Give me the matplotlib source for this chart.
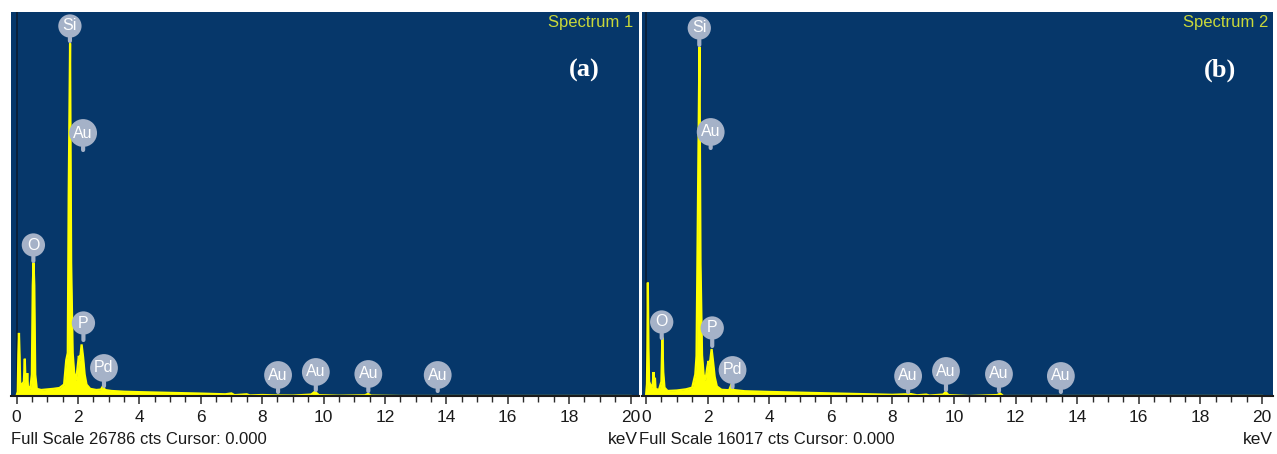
import matplotlib
matplotlib.use('Agg')
import matplotlib.pyplot as plt
from matplotlib.ticker import MultipleLocator

W, H = 1277, 454

# ---------------- data ----------------
energy_1 = [0.00, 0.04, 0.06, 0.08, 0.10, 0.12, 0.18, 0.24, 0.27, 0.29, 0.33, 0.35, 0.37,
            0.45, 0.50, 0.53, 0.555, 0.58, 0.61, 0.66, 0.80, 1.00, 1.20, 1.40, 1.55, 1.62,
            1.67, 1.70, 1.745, 1.78, 1.83, 1.88, 1.94, 1.98, 2.03, 2.07, 2.12, 2.17, 2.22,
            2.28, 2.40, 2.60, 2.75, 2.82, 2.88, 3.10, 3.50, 4.00, 5.00, 6.00, 6.80, 7.00,
            7.10, 7.50, 7.60, 8.00, 8.50, 9.00, 9.60, 9.72, 9.85, 10.5, 11.35, 11.45, 11.55,
            12.5, 20.0]
counts_1 = [0, 300, 2900, 4400, 2900, 900, 800, 1000, 2600, 1200, 700, 1600, 700,
            500, 1500, 7700, 9300, 7700, 1500, 500, 420, 460, 500, 560, 800, 2500,
            3000, 14000, 24600, 9300, 3000, 1600, 1100, 1800, 2800, 2500, 3600, 2700, 1500,
            800, 500, 420, 450, 700, 420, 350, 300, 270, 220, 170, 120, 180,
            60, 120, 40, 70, 40, 30, 100, 300, 60, 20, 50, 150, 30,
            0, 0]

energy_2 = [0.00, 0.03, 0.045, 0.06, 0.08, 0.10, 0.18, 0.22, 0.245, 0.27, 0.29, 0.31, 0.42,
            0.50, 0.53, 0.56, 0.60, 0.70, 1.00, 1.30, 1.50, 1.60, 1.64, 1.69, 1.735, 1.77,
            1.82, 1.87, 1.93, 1.99, 2.03, 2.07, 2.13, 2.18, 2.23, 2.30, 2.45, 2.70, 2.78,
            2.84, 3.20, 4.00, 5.00, 6.00, 7.00, 8.00, 8.60, 8.80, 9.10, 9.20, 9.65, 9.73,
            9.82, 10.5, 11.4, 11.5, 11.6, 20.0]
counts_2 = [0, 500, 2000, 4730, 2000, 600, 350, 500, 1000, 400, 760, 300, 250,
            600, 2440, 1000, 350, 210, 230, 280, 350, 900, 1670, 8450, 14560, 5500,
            1700, 900, 650, 1200, 1460, 1300, 1960, 1400, 800, 400, 260, 240, 500,
            250, 200, 170, 140, 110, 80, 50, 80, 30, 60, 20, 60, 170,
            40, 0, 40, 100, 0, 0]

full_scale = [26786, 16017]
spectrum_names = ['Spectrum 1', 'Spectrum 2']
panel_tags = ['(a)', '(b)']
tick_values = list(range(0, 21, 2))

peak_names = ['Si', 'Au', 'O', 'P', 'Pd', 'Au', 'Au', 'Au', 'Au']
peak_energy_1 = [1.74, 2.17, 0.55, 2.18, 2.85, 8.52, 9.75, 11.46, 13.72]
peak_energy_2 = [1.73, 2.10, 0.51, 2.15, 2.81, 8.51, 9.74, 11.46, 13.47]

# ---------------- layout (pixels) ----------------
bubble_center_px_1 = [26, 133, 245, 323, 368, 375, 372, 374, 375]
bubble_tip_px_1 = [41, 150, 261, 340, 386, 392, 390, 391, 391]
bubble_center_px_2 = [28, 132, 322, 328, 370, 376, 371, 374, 376]
bubble_tip_px_2 = [45, 148, 338, 346, 387, 392, 390, 391, 392]

PANEL_TOP, PANEL_BOT = 12, 396
panels = [dict(left=11, right=639, zero=16.5, ppk=30.7, text_right=633, tag_x=584,
               fs_x=11, kev_x=638),
          dict(left=642, right=1273, zero=646, ppk=30.8, text_right=1268, tag_x=1220,
               fs_x=639, kev_x=1273)]

BG = '#06376a'
YEL = '#ffff00'
BUB = '#a5b2c8'
SANS = ['Liberation Sans', 'DejaVu Sans']

fig = plt.figure(figsize=(W / 100, H / 100), dpi=100)
fig.patch.set_facecolor('white')

def fx(x):
    return x / W

def fy(y):
    return 1 - y / H

data = [(energy_1, counts_1, peak_energy_1, bubble_center_px_1, bubble_tip_px_1),
        (energy_2, counts_2, peak_energy_2, bubble_center_px_2, bubble_tip_px_2)]

for i, (p, (E, C, PE, BC, BT)) in enumerate(zip(panels, data)):
    ax = fig.add_axes([fx(p['left']), fy(PANEL_BOT), (p['right'] - p['left']) / W,
                       (PANEL_BOT - PANEL_TOP) / H])
    ax.set_facecolor(BG)
    xmin = -(p['zero'] - p['left']) / p['ppk']
    xmax = (p['right'] - p['zero']) / p['ppk']
    ax.set_xlim(xmin, xmax)
    ax.set_ylim(0, full_scale[i])

    ax.axvline(0, color='#0b1f38', lw=1.3, zorder=1)
    ax.fill_between(E, C, 0, color=YEL, lw=0, zorder=2)
    ax.plot(E, C, color=YEL, lw=1.6, zorder=3, solid_joinstyle='miter')

    for s in ['top', 'left', 'right']:
        ax.spines[s].set_visible(False)
    ax.spines['bottom'].set_color('#1b1b1b')
    ax.spines['bottom'].set_linewidth(1.5)
    ax.spines['bottom'].set_zorder(5)
    ax.set_yticks([])
    ax.set_xticks(tick_values)
    ax.set_xticklabels([str(t) for t in tick_values])
    ax.xaxis.set_minor_locator(MultipleLocator(0.5))
    ax.tick_params(axis='x', which='major', direction='out', length=6, width=1.1,
                   color='#2a2a2a', labelsize=12.5, pad=4, labelcolor='#1a1a1a')
    ax.tick_params(axis='x', which='minor', direction='out', length=4, width=1,
                   color='#2a2a2a')
    for lab in ax.get_xticklabels():
        lab.set_family(SANS)

    for name, e, cpx, tpx in zip(peak_names, PE, BC, BT):
        cf = (PANEL_BOT - cpx) / (PANEL_BOT - PANEL_TOP)
        tf = (PANEL_BOT - tpx) / (PANEL_BOT - PANEL_TOP)
        ax.annotate(name, xy=(e, tf), xycoords=('data', 'axes fraction'),
                    xytext=(e, cf), textcoords=('data', 'axes fraction'),
                    ha='center', va='center', fontsize=11.5, color='white',
                    family=SANS, zorder=6,
                    bbox=dict(boxstyle='circle,pad=0.26', fc=BUB, ec='none'),
                    arrowprops=dict(arrowstyle='-', color=BUB, lw=3,
                                    shrinkA=0, shrinkB=0))

    fig.text(fx(p['text_right']), fy(22), spectrum_names[i], ha='right', va='center',
             fontsize=12, color='#c9d83a', family=SANS)
    fig.text(fx(p['tag_x']), fy(70), panel_tags[i], ha='center', va='center',
             fontsize=19, color='white', weight='bold',
             family=['Liberation Serif', 'DejaVu Serif'])
    fig.text(fx(p['fs_x']), fy(440), 'Full Scale %d cts Cursor: 0.000' % full_scale[i],
             ha='left', va='center', fontsize=12, color='#1a1a1a', family=SANS)
    fig.text(fx(p['kev_x']), fy(440), 'keV', ha='right', va='center', fontsize=12.5,
             color='#1a1a1a', family=SANS)

fig.savefig('out.png', dpi=100, facecolor='white')
